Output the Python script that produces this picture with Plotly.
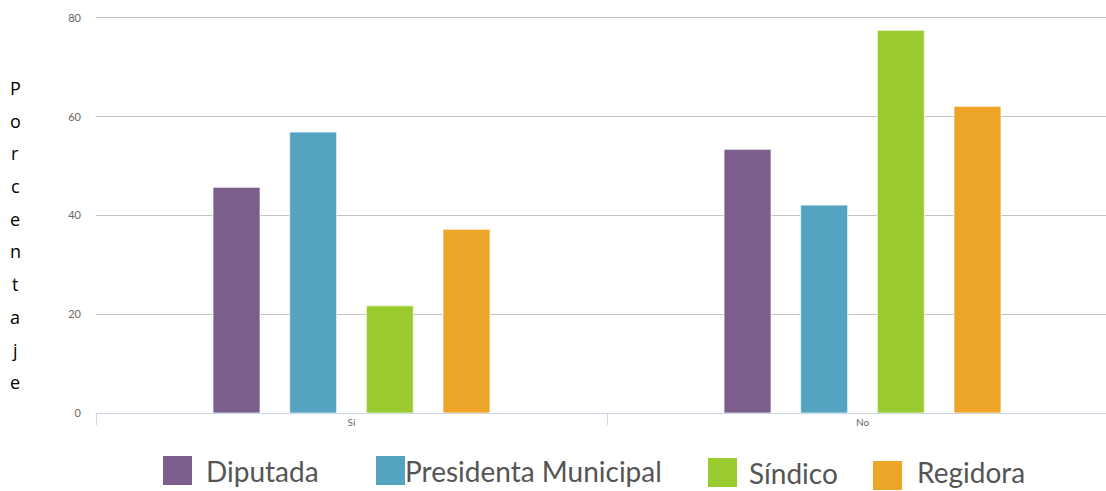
import plotly.graph_objects as go

# Survey answers (percent) by position
categories = ["Sí", "No"]
series_names = ["Diputada", "Presidenta Municipal", "Síndico", "Regidora"]
diputada = [45.7, 53.4]
presidenta_municipal = [56.9, 42.1]
sindico = [21.7, 77.5]
regidora = [37.2, 62.1]
series_values = [diputada, presidenta_municipal, sindico, regidora]
colors = ["#7b5e8b", "#53a3c1", "#99cb2f", "#eda528"]
y_ticks = [0, 20, 40, 60, 80]
y_title = "Porcentaje"

W, H = 1106, 491
Y_MAX = 80.4
ML, MB = 96, 78
MT = 18 - (Y_MAX - 80) * 395 / 80
plot_w = W - ML
plot_h = H - MT - MB
cat_px = 511  # width of one category band in pixels


def px_x(px):
    return (px - ML) / plot_w


def px_y(py):
    return (H - MB - py) / plot_h


fig = go.Figure()
for name, vals, col in zip(series_names, series_values, colors):
    fig.add_trace(go.Bar(
        x=categories, y=vals, name=name,
        marker=dict(color=col, line=dict(color="rgba(255,255,255,0.7)", width=1)),
        showlegend=False,
    ))

# Vertical stacked-letter axis title
for i, ch in enumerate(y_title):
    fig.add_annotation(
        text=ch, xref="paper", yref="paper",
        x=px_x(15), y=px_y(88 + i * 32.7),
        xanchor="center", yanchor="middle", showarrow=False,
        font=dict(family="Open Sans", size=18, color="#000000"),
    )

# Legend drawn below the chart
legend_layout = [
    # square x0, square y0 (top), text x, text y-center
    (163, 456, 205, 471),
    (376, 456, 404, 471),
    (708, 458, 748, 473),
    (873, 461, 916, 472),
]
for name, col, (sx, sy, tx, ty) in zip(series_names, colors, legend_layout):
    fig.add_shape(
        type="rect", xref="paper", yref="paper",
        x0=px_x(sx), x1=px_x(sx + 29), y0=px_y(sy), y1=px_y(sy + 29),
        fillcolor=col, line=dict(width=0),
    )
    fig.add_annotation(
        text=name, xref="paper", yref="paper",
        x=px_x(tx), y=px_y(ty), xanchor="left", yanchor="middle",
        showarrow=False, borderpad=0,
        font=dict(family="Lato", size=28, color="#555555"),
    )

fig.update_layout(
    width=W, height=H,
    margin=dict(l=ML, r=0, t=MT, b=MB, pad=0),
    paper_bgcolor="white", plot_bgcolor="white",
    barmode="group", bargap=0.4, bargroupgap=0.387,
    showlegend=False,
    font=dict(family="Lato"),
)
fig.update_xaxes(
    range=[-0.5, -0.5 + plot_w / cat_px],
    showgrid=False, zeroline=False,
    showline=True, linecolor="#ccd6eb", linewidth=1,
    ticks="outside", tickson="boundaries", ticklen=11, tickcolor="#ccd6eb",
    tickfont=dict(family="Lato", size=10, color="#666666"),
)
fig.update_yaxes(
    range=[0, Y_MAX], tickvals=y_ticks,
    showgrid=True, gridcolor="#c4c4c4", gridwidth=1,
    zeroline=False, showline=False,
    ticklabelstandoff=14,
    tickfont=dict(family="Lato", size=11, color="#666666"),
)

fig.write_html("out.html")
